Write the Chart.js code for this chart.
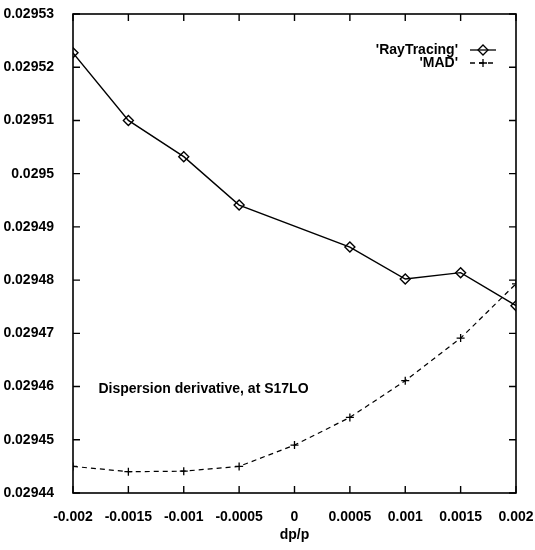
<!DOCTYPE html>
<html>
<head>
<meta charset="utf-8">
<script src="https://cdn.jsdelivr.net/npm/chart.js@4.4.1/dist/chart.umd.min.js"></script>
<style>
  html, body { margin: 0; padding: 0; background: #fff; }
  #box { width: 535px; height: 550px; }
</style>
</head>
<body>
<div id="box"><canvas id="graphique"></canvas></div>
<script>
// donnees
const rayX = [-0.002, -0.0015, -0.001, -0.0005, 0.0005, 0.001, 0.0015, 0.002]
const rayY = [0.0295227, 0.0295100, 0.0295032, 0.0294941, 0.0294862, 0.0294802, 0.0294814, 0.0294752]
const madX = [-0.002, -0.0015, -0.001, -0.0005, 0, 0.0005, 0.001, 0.0015, 0.002]
const madY = [0.0294450, 0.0294440, 0.0294441, 0.0294450, 0.0294490, 0.0294542, 0.0294611, 0.0294691, 0.0294793]

const xTicks = [-0.002, -0.0015, -0.001, -0.0005, 0, 0.0005, 0.001, 0.0015, 0.002]
const xTickLabels = ["-0.002", "-0.0015", "-0.001", "-0.0005", "0", "0.0005", "0.001", "0.0015", "0.002"]
const yTicks = [0.02944, 0.02945, 0.02946, 0.02947, 0.02948, 0.02949, 0.0295, 0.02951, 0.02952, 0.02953]
const yTickLabels = ["0.02944", "0.02945", "0.02946", "0.02947", "0.02948", "0.02949", "0.0295", "0.02951", "0.02952", "0.02953"]

const legendLabels = ["'RayTracing'", "'MAD'"]
const note = "Dispersion derivative, at S17LO"

const police = "'Liberation Sans', Arial, sans-serif"

// cadre + petites graduations vers l'interieur (comme gnuplot)
const cadre = {
    id: 'cadre',
    afterDatasetsDraw(chart) {
        const ctx = chart.ctx
        const a = chart.chartArea
        const sx = chart.scales.x
        const sy = chart.scales.y
        ctx.save()
        ctx.strokeStyle = '#000'
        ctx.lineWidth = 1.6
        ctx.strokeRect(a.left, a.top, a.right - a.left, a.bottom - a.top)
        ctx.lineWidth = 1.4
        const t = 7
        ctx.beginPath()
        for (let v of xTicks) {
            const px = sx.getPixelForValue(v)
            ctx.moveTo(px, a.bottom); ctx.lineTo(px, a.bottom - t)
            ctx.moveTo(px, a.top); ctx.lineTo(px, a.top + t)
        }
        for (let v of yTicks) {
            const py = sy.getPixelForValue(v)
            ctx.moveTo(a.left, py); ctx.lineTo(a.left + t, py)
            ctx.moveTo(a.right, py); ctx.lineTo(a.right - t, py)
        }
        ctx.stroke()

        // legende a droite, texte puis echantillon
        ctx.font = "bold 14px " + police
        const lx = a.right - 58
        chart.data.datasets.forEach((ds, i) => {
            const ly = a.top + 36 + i * 13
            ctx.fillStyle = '#000'
            ctx.textAlign = 'right'
            ctx.textBaseline = 'middle'
            ctx.fillText(legendLabels[i], lx, ly)
            ctx.beginPath()
            ctx.lineWidth = 1.3
            ctx.setLineDash(ds.borderDash || [])
            ctx.moveTo(lx + 12, ly); ctx.lineTo(lx + 38, ly)
            ctx.stroke()
            ctx.setLineDash([])
            ctx.fillStyle = 'rgba(0,0,0,0)'
            Chart.helpers.drawPoint(ctx, {
                pointStyle: ds.pointStyle, radius: ds.pointRadius, borderWidth: 1.3
            }, lx + 25, ly)
        })

        // texte dans le graphique
        ctx.fillStyle = '#000'
        ctx.textAlign = 'left'
        ctx.textBaseline = 'middle'
        ctx.font = "bold 14px " + police
        ctx.fillText(note, sx.getPixelForValue(-0.00177), sy.getPixelForValue(0.0294595))
        ctx.restore()
    }
}

const data = {
    datasets: [{
        label: legendLabels[0],
        data: rayX.map((x, i) => ({ x: x, y: rayY[i] })),
        borderColor: '#000',
        backgroundColor: '#fff',
        borderWidth: 1.4,
        pointStyle: 'rectRot',
        pointRadius: 5,
        pointBorderWidth: 1.4,
        pointBackgroundColor: 'rgba(0,0,0,0)',
        tension: 0
    }, {
        label: legendLabels[1],
        data: madX.map((x, i) => ({ x: x, y: madY[i] })),
        borderColor: '#000',
        borderWidth: 1.2,
        borderDash: [5, 4],
        pointStyle: 'cross',
        pointRadius: 4,
        pointBorderWidth: 1.3,
        tension: 0
    }]
}

const config = {
    type: 'line',
    data: data,
    plugins: [cadre],
    options: {
        responsive: false,
        animation: false,
        layout: { padding: { top: 14, right: 19, left: 0, bottom: 6 } },
        plugins: { legend: { display: false }, tooltip: { enabled: false } },
        scales: {
            x: {
                type: 'linear',
                min: -0.002, max: 0.002,
                grid: { display: false },
                border: { display: false },
                afterBuildTicks: (s) => { s.ticks = xTicks.map(v => ({ value: v })) },
                afterFit: (s) => { s.height = 51; s.paddingLeft = 0; s.paddingRight = 0 },
                ticks: {
                    autoSkip: false, maxRotation: 0, padding: 8,
                    color: '#000', font: { family: police, size: 14, weight: 'bold' },
                    callback: (v, i) => xTickLabels[i]
                },
                title: {
                    display: true, text: 'dp/p', color: '#000', padding: { top: 0, bottom: 0 },
                    font: { family: police, size: 14, weight: 'bold' }
                }
            },
            y: {
                type: 'linear',
                min: 0.02944, max: 0.02953,
                grid: { display: false },
                border: { display: false },
                afterBuildTicks: (s) => { s.ticks = yTicks.map(v => ({ value: v })) },
                afterFit: (s) => { s.width = 73; s.paddingTop = 0; s.paddingBottom = 0 },
                ticks: {
                    autoSkip: false, padding: 11,
                    color: '#000', font: { family: police, size: 14, weight: 'bold' },
                    callback: (v, i) => yTickLabels[i]
                }
            }
        }
    }
}

const cv = document.querySelector('#graphique')
cv.width = 535
cv.height = 550
new Chart(cv, config)
</script>
</body>
</html>
